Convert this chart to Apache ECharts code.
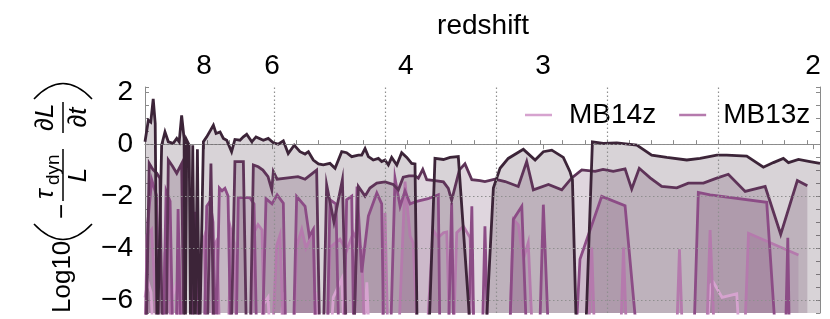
<!DOCTYPE html>
<html><head><meta charset="utf-8">
<script src="https://cdn.jsdelivr.net/npm/echarts@6/dist/echarts.min.js"></script>
<style>html,body{margin:0;padding:0;background:#fff}#c{width:830px;height:319px}</style>
</head><body><div id="c"></div>
<script>
// cosmic time axis (Gyr) with a redshift scale on top
const timeMin = 0.419, timeMax = 3.459;
const redshiftLabels = ['8', '6', '4', '3', '2'];
const redshiftTimes = [0.685, 0.991, 1.593, 2.212, 3.428];
const timeTicks = [0.5,0.6,0.7,0.8,0.9,1.0,1.1,1.2,1.3,1.4,1.5,1.6,1.7,1.8,1.9,2.0,2.1,2.2,2.3,2.4,2.5,2.6,2.7,2.8,2.9,3.0,3.1,3.2,3.3,3.4];
const timeGrid = [1.0, 1.5, 2.0, 2.5, 3.0];
const yMin = -6.5, yMax = 2.2;
const yTickLabels = [-6, -4, -2, 0, 2];
const yGrid = [-6, -4, -2, 0];
const legendNames = ['MB14z', 'MB13z'];

const mb10z = [[0.419,0.09],[0.434,0.92],[0.445,0.85],[0.456,1.74],[0.465,0.79],[0.474,-8],[0.494,-0.04],[0.509,0.47],[0.524,0.09],[0.546,0.03],[0.562,0.22],[0.573,0.09],[0.584,1.11],[0.595,0.22],[0.600,-8],[0.607,0.15],[0.618,-0.04],[0.625,-8],[0.634,-0.04],[0.644,-8],[0.655,-0.2],[0.664,-8],[0.682,0.09],[0.697,0.28],[0.727,0.73],[0.739,0.41],[0.757,0.47],[0.772,0.22],[0.787,0.15],[0.809,-0.29],[0.824,0.18],[0.847,0.15],[0.862,0.28],[0.877,0.38],[0.900,0.09],[0.919,0.28],[0.952,0.15],[0.974,0.22],[0.997,0.05],[1.019,0.0],[1.042,0.13],[1.064,-0.36],[1.091,-0.04],[1.117,-0.29],[1.140,-0.38],[1.155,-0.29],[1.177,-0.61],[1.200,-0.76],[1.222,-0.8],[1.252,-0.74],[1.275,-0.93],[1.305,-0.29],[1.327,-0.33],[1.350,-0.48],[1.380,-0.42],[1.395,-0.42],[1.410,-0.17],[1.425,-0.48],[1.447,-0.61],[1.470,-0.55],[1.485,-0.67],[1.500,-0.61],[1.515,-0.8],[1.530,-0.51],[1.553,-0.8],[1.575,-0.33],[1.598,-0.51],[1.620,-0.74],[1.635,-0.76],[1.646,-8],[1.695,-8],[1.725,-0.55],[1.763,-0.59],[1.793,-0.51],[1.830,-0.48],[1.891,-8],[1.950,-8],[1.988,-1.69],[2.018,-0.93],[2.055,-0.55],[2.123,-0.2],[2.176,-0.61],[2.213,-0.29],[2.251,-0.23],[2.303,-0.51],[2.333,-1.06],[2.344,-1.37],[2.364,-8],[2.401,-8],[2.434,0.09],[2.483,0.03],[2.544,0.05],[2.634,-0.04],[2.701,-0.42],[2.769,-0.51],[2.859,-0.61],[2.919,-0.55],[2.994,-0.42],[3.039,-0.42],[3.129,-0.46],[3.204,-0.89],[3.249,-0.71],[3.294,-0.55],[3.317,-0.71],[3.362,-0.59],[3.414,-0.67],[3.459,-0.74]];

const mb11z = [[0.423,-8],[0.438,-0.74],[0.455,-0.98],[0.472,-1.12],[0.486,-1.31],[0.498,-8],[0.514,-8],[0.524,-0.61],[0.543,-0.85],[0.562,-1.12],[0.584,-0.75],[0.595,-8],[0.698,-8],[0.716,-0.75],[0.730,-8],[0.806,-8],[0.824,-0.67],[0.862,-0.67],[0.877,-8],[0.892,-8],[0.907,-0.8],[0.929,-0.87],[0.950,-1.0],[0.973,-1.25],[0.990,-1.76],[0.997,-1.06],[1.014,-1.35],[1.063,-1.3],[1.108,-1.25],[1.140,-1.35],[1.192,-1.0],[1.207,-8],[1.221,-8],[1.237,-1.56],[1.270,-3.0],[1.308,-1.37],[1.327,-8],[1.357,-8],[1.380,-1.63],[1.410,-2.0],[1.432,-1.69],[1.463,-1.5],[1.500,-1.45],[1.537,-1.55],[1.560,-1.76],[1.582,-1.27],[1.608,-1.22],[1.635,-1.22],[1.650,-1.31],[1.670,-0.97],[1.688,-1.37],[1.725,-1.4],[1.763,-1.45],[1.785,-1.7],[1.800,-2.16],[1.835,-0.99],[1.860,-0.76],[1.891,-1.37],[1.928,-1.4],[1.950,-1.44],[1.995,-1.35],[2.041,-1.44],[2.100,-1.63],[2.138,-0.67],[2.168,-1.76],[2.236,-1.55],[2.296,-1.76],[2.341,-1.3],[2.386,-0.99],[2.446,-1.05],[2.482,-0.97],[2.528,-1.05],[2.581,-0.95],[2.611,-1.73],[2.645,-0.93],[2.694,-1.3],[2.746,-1.63],[2.814,-1.68],[2.866,-1.5],[2.934,-1.5],[2.994,-1.31],[3.046,-1.16],[3.122,-1.82],[3.212,-1.63],[3.282,-3.47],[3.357,-1.40],[3.402,-1.6]];

const mb12z = [[0.419,-8],[0.432,-3.0],[0.449,-1.37],[0.472,-2.0],[0.482,-8],[0.500,-8],[0.514,-1.8],[0.532,-2.2],[0.545,-8],[0.559,-8],[0.568,-2.5],[0.581,-8],[0.631,-8],[0.644,-2.6],[0.662,-8],[0.685,-8],[0.697,-2.39],[0.712,-2.2],[0.725,-3.0],[0.739,-8],[0.745,-8],[0.754,-1.69],[0.766,-1.8],[0.779,-1.7],[0.793,-2.0],[0.806,-8],[0.829,-8],[0.839,-2.07],[0.865,-2.05],[0.892,-2.07],[0.910,-2.3],[0.923,-8],[0.946,-8],[0.964,-2.1],[0.991,-2.3],[1.014,-1.95],[1.042,-2.27],[1.054,-8],[1.086,-8],[1.102,-2.01],[1.140,-2.39],[1.159,-3.54],[1.177,-3.28],[1.189,-8],[1.239,-8],[1.252,-2.14],[1.279,-2.3],[1.293,-8],[1.315,-8],[1.327,-2.14],[1.350,-2.0],[1.360,-8],[1.367,-8],[1.374,-1.63],[1.395,-4.94],[1.425,-2.77],[1.463,-1.88],[1.485,-2.3],[1.495,-8],[1.523,-8],[1.545,-1.31],[1.568,-2.4],[1.590,-1.8],[1.613,-2.3],[1.643,-2.2],[1.694,-2.1],[1.740,-1.95],[1.748,-8],[1.784,-8],[1.800,-2.27],[1.811,-8],[1.874,-8],[1.891,-2.39],[1.901,-8],[1.937,-8],[1.950,-3.16],[1.964,-8],[2.059,-8],[2.078,-2.9],[2.116,-2.39],[2.140,-8],[2.194,-8],[2.213,-2.33],[2.239,-8],[2.356,-8],[2.378,-4.43],[2.476,-2.01],[2.581,-2.37],[2.641,-8],[2.889,-8],[2.911,-1.86],[2.964,-1.95],[3.219,-2.24],[3.264,-8],[3.302,-8],[3.314,-3.6],[3.322,-8]];

const mb13z = [[0.419,-8],[0.428,-3.5],[0.449,-3.28],[0.464,-5.7],[0.477,-8],[0.495,-8],[0.509,-4.2],[0.523,-3.6],[0.536,-8],[0.559,-8],[0.572,-3.9],[0.586,-8],[0.658,-8],[0.671,-4.0],[0.685,-3.6],[0.698,-8],[0.721,-8],[0.730,-3.9],[0.743,-3.7],[0.757,-8],[0.793,-8],[0.806,-3.3],[0.820,-3.8],[0.833,-8],[0.892,-8],[0.910,-3.4],[0.928,-3.1],[0.946,-3.3],[0.959,-8],[0.991,-8],[1.012,-3.9],[1.027,-3.5],[1.045,-8],[1.086,-8],[1.102,-3.92],[1.125,-3.28],[1.144,-4.0],[1.177,-3.35],[1.189,-8],[1.239,-8],[1.252,-3.98],[1.297,-3.66],[1.327,-4.1],[1.357,-3.41],[1.395,-4.05],[1.410,-8],[1.486,-8],[1.500,-2.65],[1.514,-8],[1.559,-8],[1.590,-1.44],[1.613,-3.54],[1.627,-3.8],[1.649,-8],[1.685,-8],[1.716,-3.3],[1.739,-3.6],[1.763,-3.41],[1.778,-3.38],[1.793,-8],[1.806,-8],[1.823,-3.41],[1.853,-3.16],[1.883,-3.6],[1.905,-8],[2.059,-8],[2.078,-2.9],[2.100,-3.1],[2.123,-4.43],[2.145,-3.79],[2.167,-8],[2.414,-8],[2.431,-3.98],[2.446,-8],[2.559,-8],[2.574,-3.98],[2.590,-8],[2.811,-8],[2.826,-4.05],[2.842,-8],[2.946,-8],[2.964,-3.31],[2.986,-8],[3.117,-8],[3.137,-3.43],[3.362,-4.27]];

const mb14z = [[0.419,-5.9],[0.432,-5.3],[0.446,-5.7],[0.459,-8],[0.532,-8],[0.545,-5.8],[0.563,-5.3],[0.577,-8],[0.937,-8],[0.950,-6.2],[0.973,-5.9],[0.986,-8],[1.027,-8],[1.041,-5.7],[1.054,-8],[1.176,-8],[1.189,-5.7],[1.203,-8],[1.252,-8],[1.267,-5.9],[1.305,-5.19],[1.320,-8],[1.401,-8],[1.418,-5.32],[1.432,-8],[2.946,-8],[2.964,-5.45],[2.979,-5.32],[3.018,-5.9],[3.084,-5.76],[3.099,-8]];

const FONT = 'Liberation Sans, Arial, sans-serif';
const defs = [
  {name: 'MB14z', data: mb14z, color: '#d6a3cf'},
  {name: 'MB13z', data: mb13z, color: '#b57aad'},
  {name: 'MB12z', data: mb12z, color: '#8c4c86'},
  {name: 'MB11z', data: mb11z, color: '#5e3358'},
  {name: 'MB10z', data: mb10z, color: '#3c2438'}
];

const gridMarks = timeGrid.map(v => ({xAxis: v})).concat(yGrid.map(v => ({yAxis: v})));
const series = [];
defs.forEach((d, i) => {
  const s = {
    type: 'line', name: d.name + ' area', data: d.data, showSymbol: false, silent: true,
    lineStyle: {width: 0, opacity: 0}, areaStyle: {color: d.color, opacity: 0.2, origin: 'start'},
    z: 1, clip: true
  };
  if (i === 0) {
    s.markLine = {silent: true, symbol: ['none', 'none'], label: {show: false},
      lineStyle: {type: [1.5, 2.5], color: '#8f8f8f', width: 1.2}, data: gridMarks, animation: false};
  }
  series.push(s);
});
defs.forEach(d => {
  series.push({
    type: 'line', name: d.name, data: d.data, showSymbol: false, color: d.color,
    itemStyle: {color: d.color}, lineStyle: {width: 2.8, color: d.color, join: 'miter'}, z: 3, clip: true
  });
});

const frame = {show: true, lineStyle: {color: '#8a8a8a', width: 1}};
const tickStyle = {color: '#8a8a8a', width: 1};
const txt = (x, y, text, size, align, va, italic) => ({type: 'text', x: x, y: y,
  style: {text: text, fontSize: size, fontFamily: FONT, fontStyle: italic ? 'italic' : 'normal', fill: '#000', align: align, verticalAlign: va}});

const chart = echarts.init(document.getElementById('c'), null, {renderer: 'canvas'});
chart.setOption({
  animation: false,
  backgroundColor: '#ffffff',
  grid: {left: 145, right: 10, top: 87, bottom: 6, containLabel: false},
  legend: {
    data: legendNames, left: 520, top: 96, icon: 'rect', itemWidth: 27, itemHeight: 2.5, itemGap: 23,
    selectedMode: false,
    textStyle: {fontSize: 28, color: '#000', fontFamily: FONT, padding: [0, 0, 0, 12], lineHeight: 28}
  },
  xAxis: [
    {type: 'value', position: 'bottom', min: timeMin, max: timeMax,
     axisLine: frame, axisTick: {show: true, inside: true, length: 4, customValues: timeTicks, lineStyle: tickStyle},
     axisLabel: {show: false}, splitLine: {show: false}},
    {type: 'value', position: 'top', min: timeMin, max: timeMax,
     axisLine: frame, axisTick: {show: true, inside: true, length: 5, customValues: redshiftTimes, lineStyle: tickStyle},
     axisLabel: {show: true, customValues: redshiftTimes, margin: 7, fontSize: 28, color: '#000', fontFamily: FONT,
       formatter: v => {
         let best = 0;
         redshiftTimes.forEach((t, i) => { if (Math.abs(t - v) < Math.abs(redshiftTimes[best] - v)) best = i; });
         return redshiftLabels[best];
       }},
     splitLine: {show: false}}
  ],
  yAxis: [
    {type: 'value', position: 'left', min: yMin, max: yMax, interval: 0.5,
     axisLine: frame, axisTick: {show: true, inside: true, length: 4, lineStyle: tickStyle},
     axisLabel: {show: true, margin: 12, fontSize: 28, color: '#000', fontFamily: FONT,
       formatter: v => {
         const k = yTickLabels.find(x => Math.abs(x - v) < 1e-6);
         if (k === undefined) return '';
         return k < 0 ? '\u2212' + Math.abs(k) : String(k);
       }},
     splitLine: {show: false}},
    {type: 'value', position: 'right', min: yMin, max: yMax, interval: 0.5,
     axisLine: frame, axisTick: {show: true, inside: true, length: 4, lineStyle: tickStyle},
     axisLabel: {show: false}, splitLine: {show: false}}
  ],
  graphic: [
    {type: 'text', x: 483, y: 26, style: {text: 'redshift', fontSize: 28, fontFamily: FONT, fill: '#000', align: 'center', verticalAlign: 'middle'}},
    {type: 'group', x: 63, y: 199, rotation: Math.PI / 2, children: [
      txt(-114, 0, 'Log10', 26, 'left', 'middle', false),
      {type: 'bezierCurve', shape: {x1: -25, y1: -29, x2: -25, y2: 29, cpx1: -56, cpy1: 0}, style: {stroke: '#000', lineWidth: 1.6, fill: null}},
      txt(-20, 0, '\u2212', 26, 'left', 'middle', false),
      {type: 'line', shape: {x1: -2, y1: 0, x2: 50, y2: 0}, style: {stroke: '#000', lineWidth: 1.5}},
      txt(0, -4, '\u03C4', 26, 'left', 'bottom', true),
      txt(14, 0, 'dyn', 19, 'left', 'bottom', false),
      txt(24, 3, 'L', 26, 'center', 'top', true),
      {type: 'line', shape: {x1: 66, y1: 0, x2: 97, y2: 0}, style: {stroke: '#000', lineWidth: 1.5}},
      txt(68, -4, '\u2202', 26, 'left', 'bottom', false),
      txt(81, -4, 'L', 26, 'left', 'bottom', true),
      txt(71.5, 3, '\u2202', 26, 'left', 'top', false),
      txt(84.3, 3, 't', 26, 'left', 'top', true),
      {type: 'bezierCurve', shape: {x1: 100, y1: -29, x2: 100, y2: 29, cpx1: 131, cpy1: 0}, style: {stroke: '#000', lineWidth: 1.6, fill: null}}
    ]}
  ],
  series: series
});
</script>
</body></html>
